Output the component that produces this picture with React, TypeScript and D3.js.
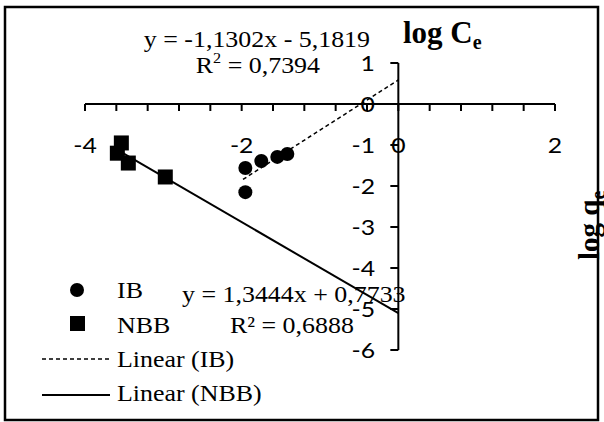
import React from "react";
import * as d3 from "d3";

// log Ce vs log qe readings
const ibX = [-1.953, -1.953, -1.749, -1.545, -1.417];
const ibY = [-1.56, -2.15, -1.39, -1.29, -1.22];
const nbbX = [-3.536, -3.587, -3.447, -2.975];
const nbbY = [-0.95, -1.2, -1.44, -1.78];

const xLabels = [-4, -2, 0, 2];
const yLabels = [1, 0, -1, -2, -3, -4, -5, -6];
const xMinorStep = 0.4;

const fitLine = (xs: number[], ys: number[]) => {
  const mx = d3.mean(xs)!;
  const my = d3.mean(ys)!;
  const sxy = d3.sum(xs, (v, i) => (v - mx) * (ys[i] - my));
  const sxx = d3.sum(xs, (v) => (v - mx) * (v - mx));
  const slope = sxy / sxx;
  return { slope, intercept: my - slope * mx };
};

const W = 604;
const H = 422;
const serif = "'Liberation Serif', 'Times New Roman', serif";
const sans = "Lato, 'Open Sans', sans-serif";

// text stretched a bit wider, like the original picture
const T = (props: { x: number; y: number; anchor?: string; sx?: number; size: number; font: string; children: any }) => (
  <text
    transform={`translate(${props.x},${props.y}) scale(${props.sx ?? 1.08},1)`}
    textAnchor={props.anchor ?? "start"}
    fontFamily={props.font}
    fontSize={props.size}
  >
    {props.children}
  </text>
);

export default function App() {
  const x = d3.scaleLinear().domain([-4, 2]).range([85, 555]);
  const y = d3.scaleLinear().domain([-6, 1]).range([350, 63]);
  const x0 = x(0);
  const y0 = y(0);

  const xTicks = d3.range(-4, 2 + 1e-6, xMinorStep);
  const ibFit = fitLine(ibX, ibY);
  const nbbFit = fitLine(nbbX, nbbY);
  const ibLine = d3
    .line<number>()
    .x((d) => x(d))
    .y((d) => y(ibFit.slope * d + ibFit.intercept))([d3.min(ibX)! - 0.03, 0]);
  const nbbLine = d3
    .line<number>()
    .x((d) => x(d))
    .y((d) => y(nbbFit.slope * d + nbbFit.intercept))([d3.min(nbbX)!, 0]);

  return (
    <svg width={W} height={H} style={{ position: "absolute", left: 0, top: 0, background: "#fff" }}>
      <rect x={5} y={7} width={593} height={413} fill="#fff" stroke="#000" strokeWidth={2.5} />

      {/* trend lines */}
      <path d={ibLine!} fill="none" stroke="#000" strokeWidth={1.5} strokeDasharray="4,3" />
      <path d={nbbLine!} fill="none" stroke="#000" strokeWidth={2} />

      {/* x axis */}
      <line x1={x(-4)} x2={x(2)} y1={y0} y2={y0} stroke="#000" strokeWidth={2} />
      {xTicks.map((t, i) => (
        <line key={i} x1={x(t)} x2={x(t)} y1={y0} y2={y0 + 7} stroke="#000" strokeWidth={2} />
      ))}
      {xLabels.map((t) => (
        <T key={t} x={x(t)} y={153} anchor="middle" font={sans} size={21} sx={1.18}>
          {t}
        </T>
      ))}

      {/* y axis */}
      <line x1={x0} x2={x0} y1={y(1)} y2={y(-6)} stroke="#000" strokeWidth={2} />
      {yLabels.map((t) => (
        <g key={t}>
          <line x1={x0 - 8} x2={x0} y1={y(t)} y2={y(t)} stroke="#000" strokeWidth={2} />
          <T x={375} y={y(t) + 7.5} anchor="end" font={sans} size={21} sx={1.18}>
            {t}
          </T>
        </g>
      ))}

      {/* points */}
      {ibX.map((v, i) => (
        <circle key={i} cx={x(v)} cy={y(ibY[i])} r={7} fill="#000" />
      ))}
      {nbbX.map((v, i) => (
        <rect key={i} x={x(v) - 7.5} y={y(nbbY[i]) - 7.5} width={15} height={15} fill="#000" />
      ))}

      {/* axis titles */}
      <text x={403} y={43} fontFamily={serif} fontWeight="bold" fontSize={31}>
        log C<tspan fontSize={20} dy={6}>e</tspan>
      </text>
      <text transform="translate(599,260) rotate(-90)" fontFamily={serif} fontWeight="bold" fontSize={29}>
        log q<tspan fontSize={20} dy={6}>e</tspan>
      </text>

      {/* trendline labels */}
      <T x={370} y={47} anchor="end" font={serif} size={24}>
        y = -1,1302x - 5,1819
      </T>
      <T x={320} y={73} anchor="end" font={serif} size={24}>
        R<tspan fontSize={15} dy={-10}>2</tspan>
        <tspan dy={10}> = 0,7394</tspan>
      </T>
      <T x={182} y={302} font={serif} size={24}>
        y = 1,3444x + 0,7733
      </T>
      <T x={230} y={333} font={serif} size={24}>
        R² = 0,6888
      </T>

      {/* legend */}
      <circle cx={77} cy={290} r={7} fill="#000" />
      <T x={117} y={298} font={serif} size={24}>IB</T>
      <rect x={70} y={316} width={15} height={15} fill="#000" />
      <T x={117} y={333} font={serif} size={24}>NBB</T>
      <line x1={42} x2={109} y1={359} y2={359} stroke="#000" strokeWidth={1.5} strokeDasharray="4,3" />
      <T x={117} y={367} font={serif} size={24}>Linear (IB)</T>
      <line x1={42} x2={110} y1={395} y2={395} stroke="#000" strokeWidth={2} />
      <T x={117} y={401} font={serif} size={24}>Linear (NBB)</T>
    </svg>
  );
}
